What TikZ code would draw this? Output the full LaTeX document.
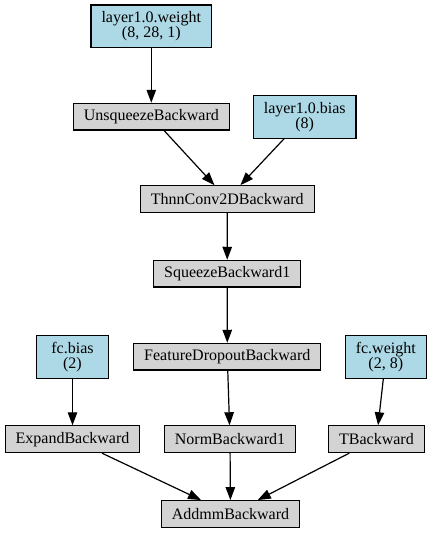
\documentclass[tikz,border=0pt]{standalone}
\usepackage{fontspec}
\setmainfont{Liberation Serif}
\usetikzlibrary{arrows.meta}

\definecolor{paramblue}{RGB}{173,216,230}
\definecolor{fngrey}{RGB}{211,211,211}

\tikzset{every picture/.style={line width=1.2pt}}

\begin{document}
\begin{tikzpicture}[x=1pt,y=1pt,yscale=-1,xscale=1,
  fnbox/.style={draw, fill=fngrey, inner xsep=10.5pt, inner ysep=0pt, minimum width=72pt, minimum height=26.7pt, font=\fontsize{16}{15}\selectfont},
  parambox/.style={draw, fill=paramblue, inner xsep=10.5pt, inner ysep=0pt, minimum width=72pt, minimum height=42.6pt, align=center, font=\fontsize{16}{15}\selectfont},
  edge/.style={-{Triangle[length=13pt,width=9.5pt]}}]
\path[use as bounding box] (0,0) rectangle (432,533);

% Parameter Nodes
\node [parambox] (w1) at (151.3,26.2) {layer1.0.weight\\(8, 28, 1)};
\node [parambox] (b1) at (304.7,116.8) {layer1.0.bias\\(8)};
\node [parambox] (fcb) at (72.5,357) {fc.bias\\(2)};
\node [parambox] (fcw) at (385.8,357) {fc.weight\\(2, 8)};

% Backward Nodes
\node [fnbox] (unsq) at (151.3,116.7) {UnsqueezeBackward};
\node [fnbox] (conv) at (227.3,199.1) {ThnnConv2DBackward};
\node [fnbox] (sq) at (227.2,273.7) {SqueezeBackward1};
\node [fnbox] (drop) at (227.3,356.7) {FeatureDropoutBackward};
\node [fnbox] (exp) at (72.5,439.2) {ExpandBackward};
\node [fnbox] (norm) at (230,439.2) {NormBackward1};
\node [fnbox] (tb) at (376.5,439.2) {TBackward};
\node [fnbox] (addmm) at (230.5,514) {AddmmBackward};

% Edges
\draw [edge] (w1) -- (unsq);
\draw [edge] (unsq) -- (conv);
\draw [edge] (b1) -- (conv);
\draw [edge] (conv) -- (sq);
\draw [edge] (sq) -- (drop);
\draw [edge] (drop) -- (norm);
\draw [edge] (fcb) -- (exp);
\draw [edge] (fcw) -- (tb);
\draw [edge] (exp) -- (addmm);
\draw [edge] (norm) -- (addmm);
\draw [edge] (tb) -- (addmm);

\end{tikzpicture}
\end{document}
